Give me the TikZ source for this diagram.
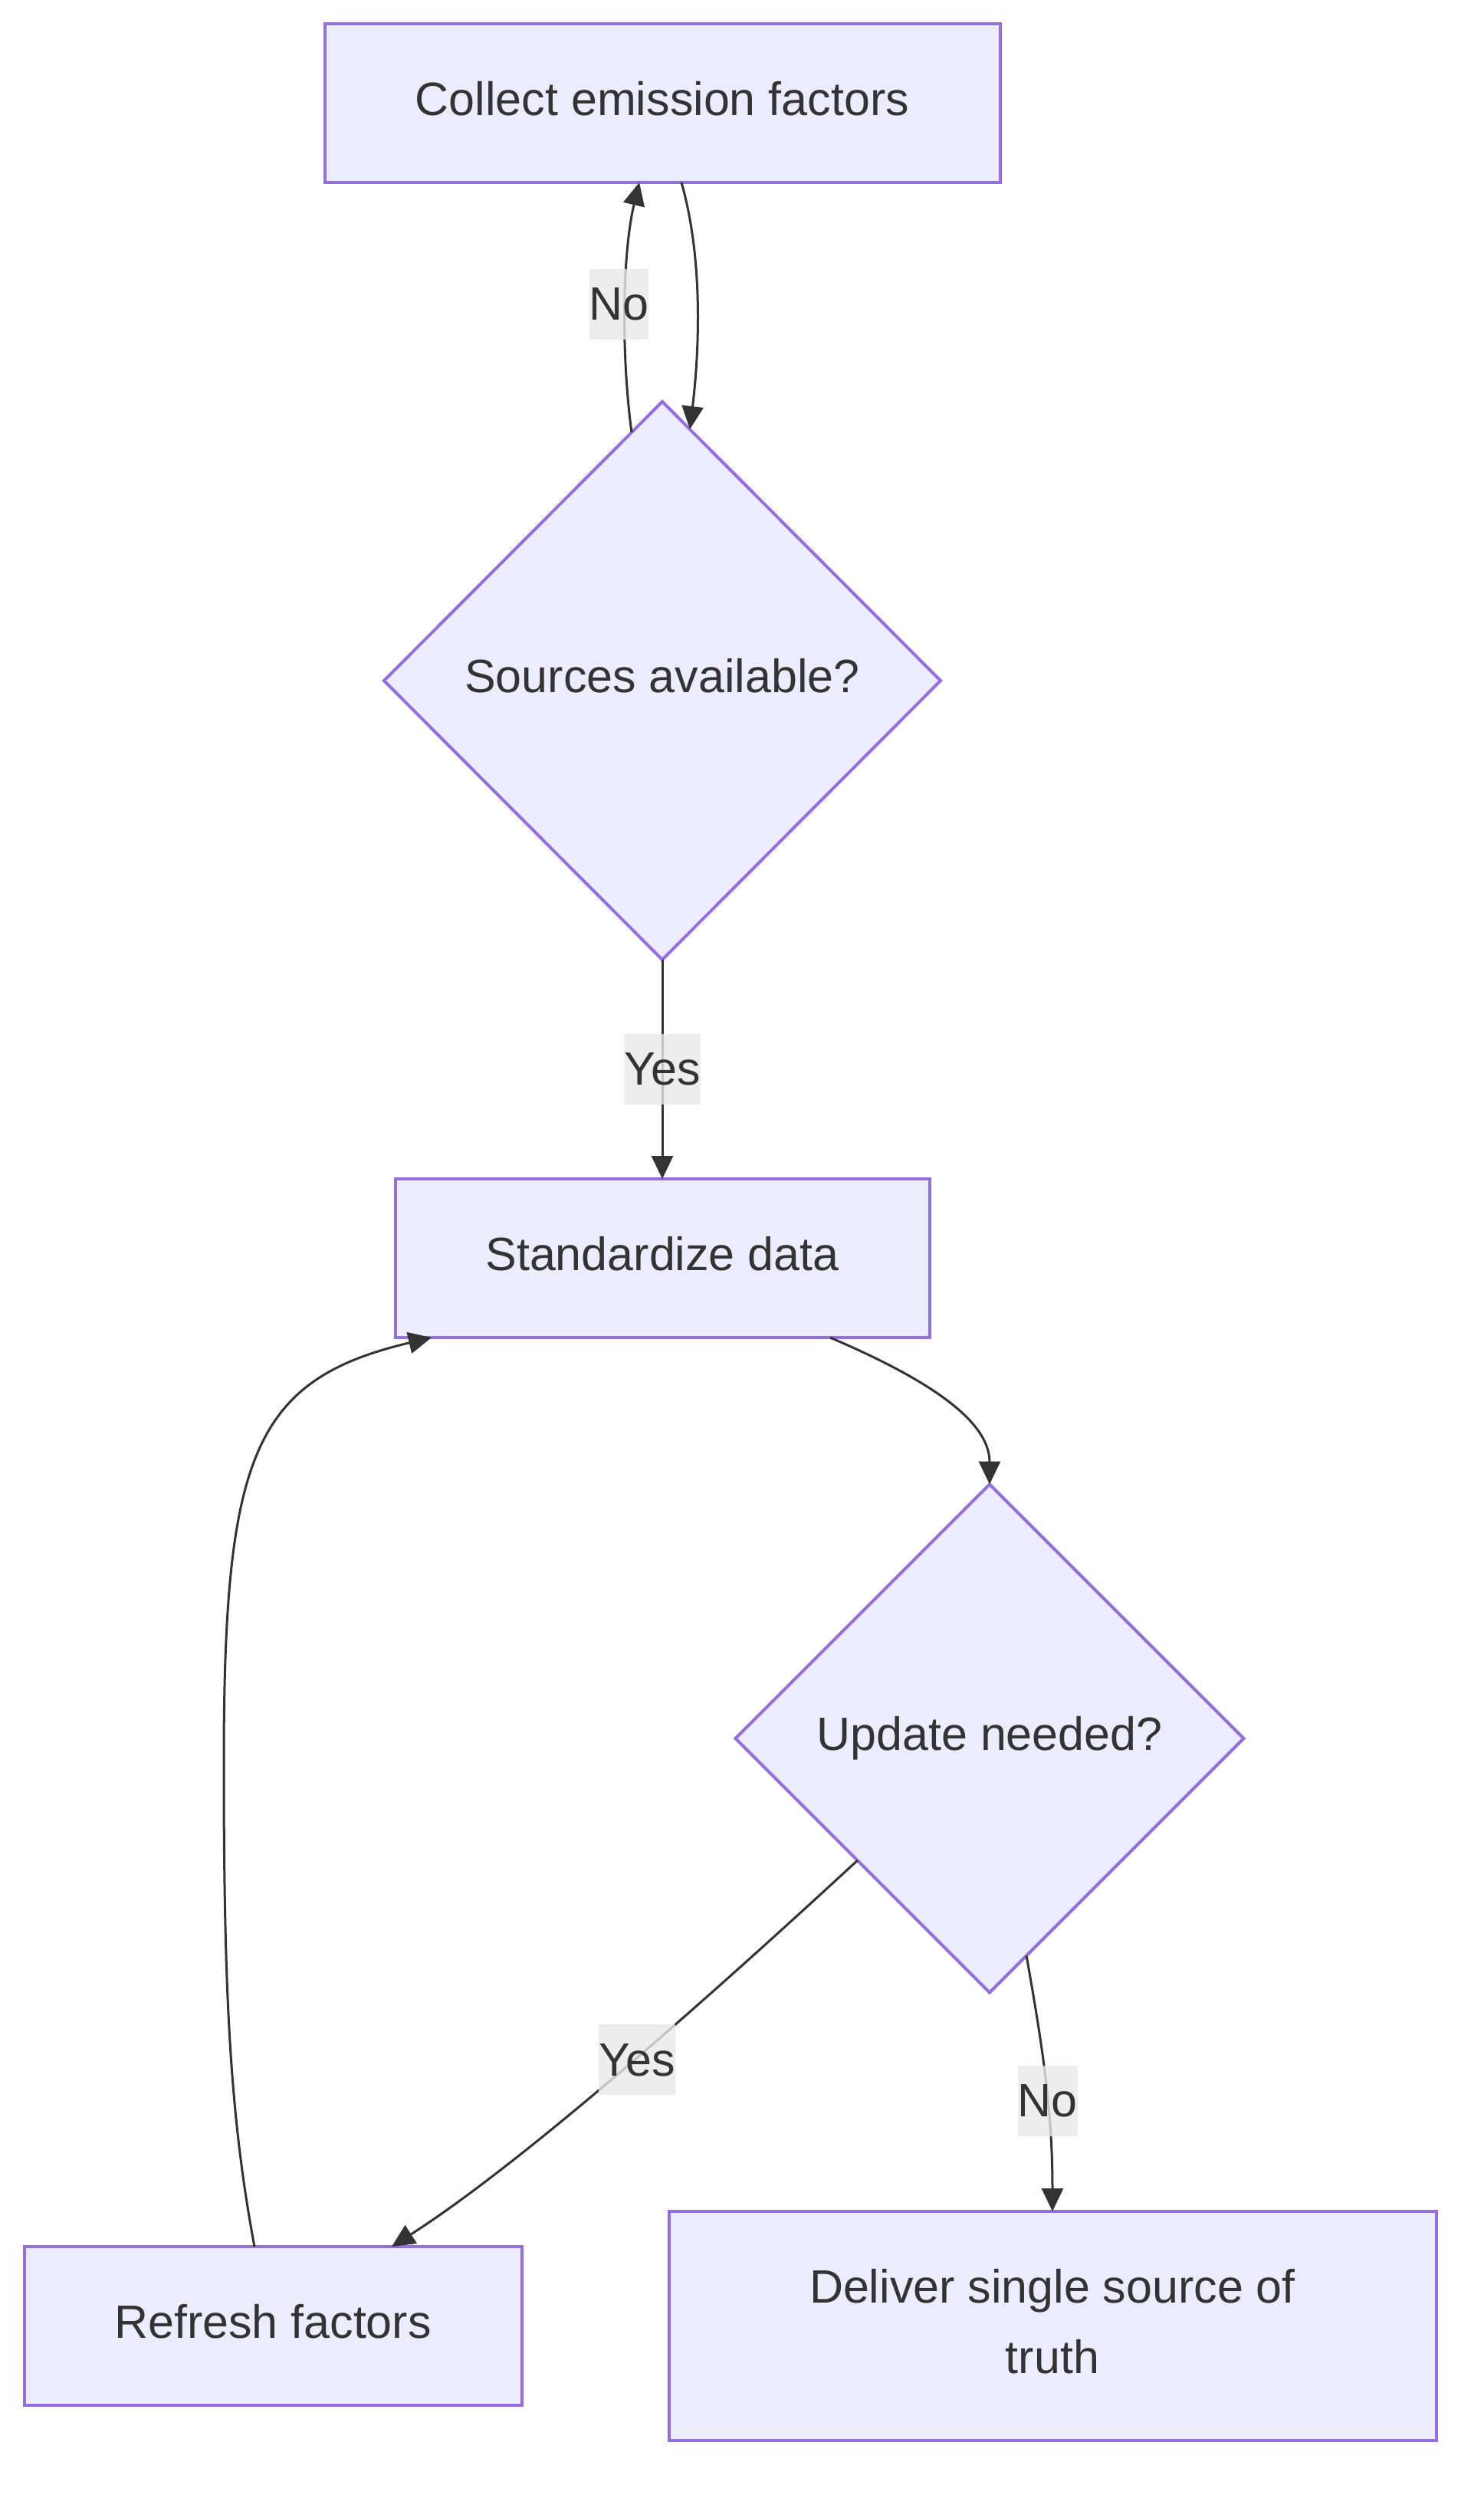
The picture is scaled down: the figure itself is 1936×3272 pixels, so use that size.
\documentclass[tikz,border=0pt]{standalone}
\usepackage{fontspec}
\setmainfont{Liberation Sans}
\usetikzlibrary{positioning, arrows.meta, shapes.geometric, calc}
\definecolor{nodefill}{RGB}{236,236,255}
\definecolor{nodeborder}{RGB}{147,112,219}
\definecolor{inkgray}{RGB}{51,51,51}
\definecolor{labelgray}{RGB}{232,232,232}

\begin{document}
\begin{tikzpicture}[
  x=0.5pt, y=-0.5pt,
  node distance=143pt,
  box/.style={draw=nodeborder, fill=nodefill, line width=2pt, text=inkgray,
              outer sep=0pt, minimum height=103.5pt, align=center, text depth=6.5pt,
              font=\fontsize{30.5}{46}\selectfont},
  decision/.style={diamond, aspect=1, draw=nodeborder, fill=nodefill, line width=2pt,
              text=inkgray, outer sep=0pt, inner sep=0pt, text depth=6.5pt,
              font=\fontsize{30.5}{46}\selectfont},
  arr/.style={-{Triangle[length=15pt, width=14pt]}, line width=1.5pt, draw=inkgray},
  lbl/.style={fill=labelgray, fill opacity=0.8, text opacity=1, text=inkgray,
              inner sep=0pt, minimum height=46pt, font=\fontsize{30.5}{46}\selectfont},
]
  \useasboundingbox (0,0) rectangle (1936,3272);

  \node[box, minimum width=440.5pt] (collect) at (864,134.5) {Collect emission factors};
  \node[decision, minimum width=363pt, minimum height=364pt, below=of collect]
    (sources) {Sources available?};
  \node[box, minimum width=348.5pt, below=of sources] (standardize) {Standardize data};
  \node[decision, minimum width=331.5pt, minimum height=331.5pt]
    (update) at (1291,2268) {Update needed?};
  \node[box, minimum width=324.5pt] (refresh) at (356,3034.5) {Refresh factors};
  \node[box, minimum width=500.5pt, minimum height=149.5pt, right=96pt of refresh]
    (deliver) {Deliver single source of\\truth};

  \draw[arr] ([xshift=12.5pt]collect.south)
    .. controls (918,340) and (912,460) .. ([xshift=18pt,yshift=-18pt]sources.north);
  \draw[arr] ([xshift=-20pt,yshift=-20pt]sources.north)
    .. controls (810,460) and (812,330) .. node[lbl, xshift=-4pt]{No} ([xshift=-15pt]collect.south);
  \draw[arr] (sources.south) -- node[lbl]{Yes} (standardize.north);
  \draw[arr] ([xshift=109.5pt]standardize.south)
    .. controls (1200,1795) and (1291,1850) .. (update.north);
  \draw[arr] ($(update.west)!0.48!(update.south)$)
    .. controls (980,2555) and (700,2810) .. node[lbl, pos=0.51, xshift=2pt]{Yes} ([xshift=77.5pt]refresh.north);
  \draw[arr] ($(update.south)!0.145!(update.east)$)
    .. controls (1362,2680) and (1373,2760) .. node[lbl, pos=0.57]{No} (deliver.north);
  \draw[arr] ([xshift=-12pt]refresh.north)
    .. controls (300,2760) and (292,2600) .. (292,2300)
    .. controls (292,1900) and (330,1800) .. ([xshift=-150.5pt]standardize.south);
\end{tikzpicture}
\end{document}
